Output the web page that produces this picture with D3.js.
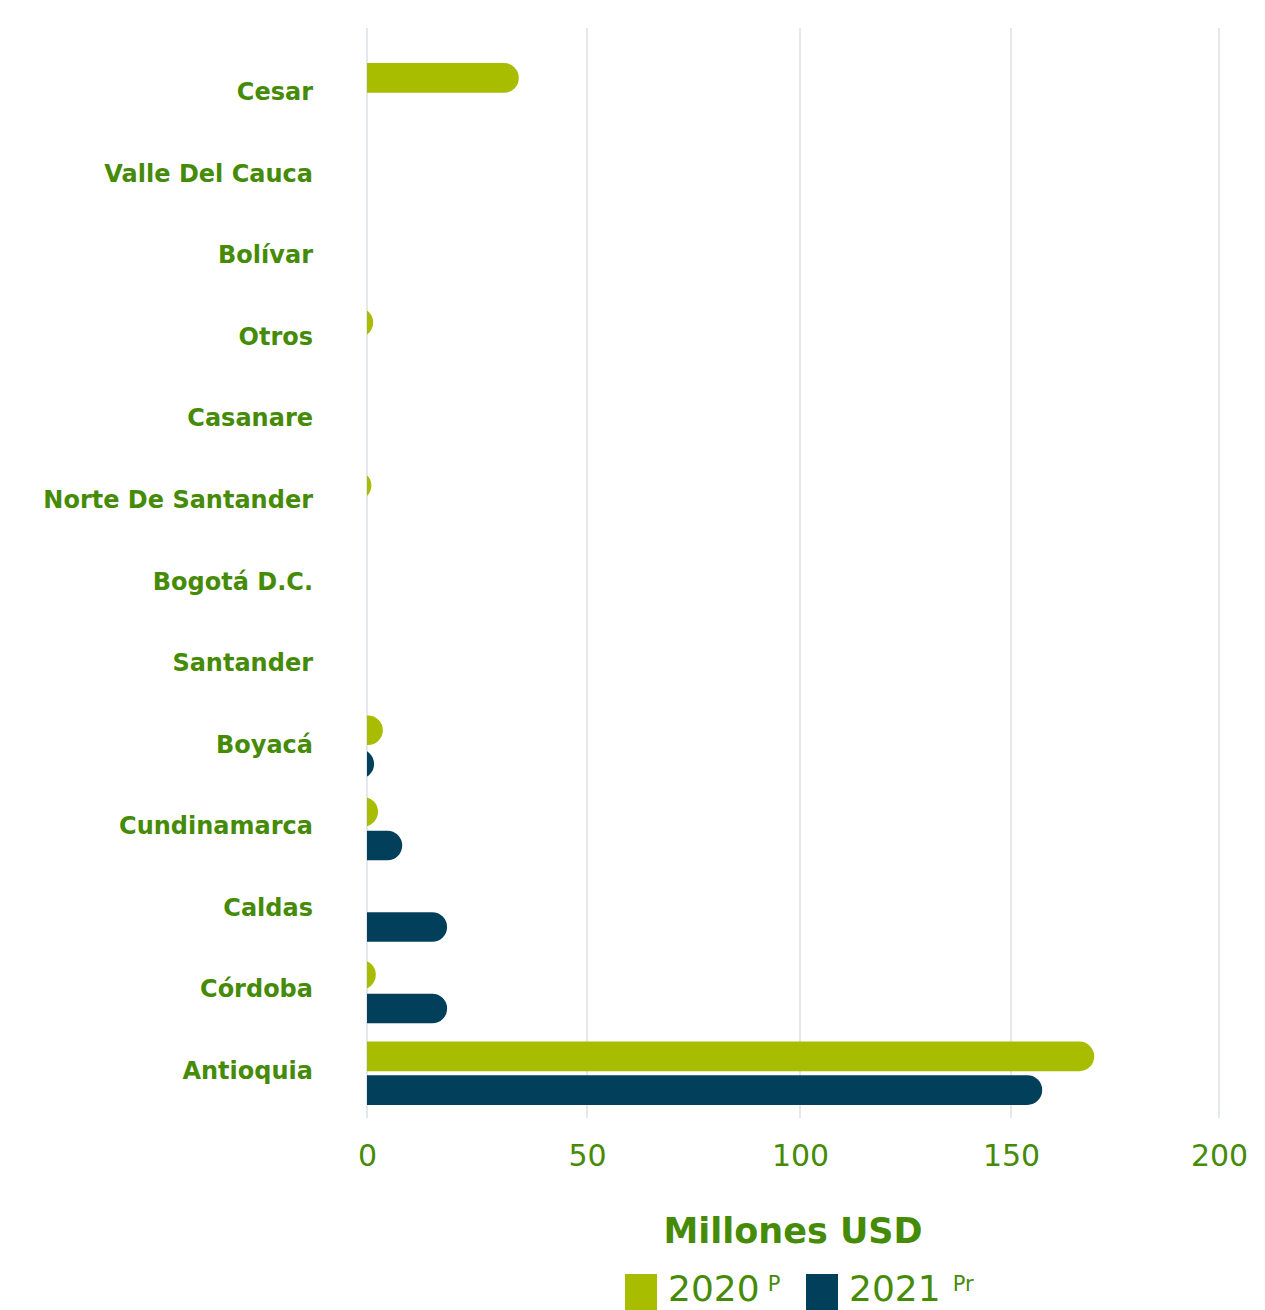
<!DOCTYPE html>
<html>
<head>
<meta charset="utf-8">
<script src="https://cdn.jsdelivr.net/npm/d3@7"></script>
<style>
  body { margin: 0; background: #fff; }
  svg { display: block; font-family: "DejaVu Sans", sans-serif; }
</style>
</head>
<body>
<svg id="chart" width="1265" height="1310"></svg>
<script>

var categories = [
    "Cesar",
    "Valle Del Cauca",
    "Bolívar",
    "Otros",
    "Casanare",
    "Norte De Santander",
    "Bogotá D.C.",
    "Santander",
    "Boyacá",
    "Cundinamarca",
    "Caldas",
    "Córdoba",
    "Antioquia"
];

var seriesNames = ["2020", "2021"];
var seriesSup = ["P", "Pr"];

// millones USD
var values2020 = [34.5, 0, 0, 1.4, 0, 1.0, 0, 0, 3.6, 2.5, 0, 2.0, 170.0];
var values2021 = [0, 0, 0, 0, 0, 0, 0, 0, 1.6, 8.0, 18.2, 18.2, 157.5];

var xTicks = [0, 50, 100, 150, 200];

var GREEN = "#a8bc00";
var NAVY = "#023f5b";
var TEXT = "#468b08";

var svg = d3.select("#chart");

// the gridlines in the picture are not quite evenly spaced
var x = d3.scaleLinear().domain(xTicks).range([367, 587, 800, 1011, 1219]);

var y = d3.scaleBand()
    .domain(categories)
    .range([54, 1114])
    .padding(0);

var ySub = d3.scaleBand()
    .domain(seriesNames)
    .range([0, y.bandwidth()])
    .paddingInner(0.12)
    .paddingOuter(0.27);

// gridlines
svg.append("g")
    .selectAll("line")
    .data(xTicks)
    .enter()
    .append("line")
    .attr("x1", function(d){ return x(d); })
    .attr("x2", function(d){ return x(d); })
    .attr("y1", 28)
    .attr("y2", 1118)
    .attr("stroke", "#d6dbe1")
    .attr("stroke-width", 1.3);

// clip so the bars start flat on the zero line
svg.append("clipPath")
    .attr("id", "plotClip")
    .append("rect")
    .attr("x", x(0))
    .attr("y", 0)
    .attr("width", 1265 - x(0))
    .attr("height", 1310);

var barData = [];
categories.forEach(function(c, i){
    barData.push({ cat: c, series: "2020", value: values2020[i], color: GREEN });
    barData.push({ cat: c, series: "2021", value: values2021[i], color: NAVY });
});

var r = ySub.bandwidth() / 2;

svg.append("g")
    .attr("clip-path", "url(#plotClip)")
    .selectAll("rect")
    .data(barData.filter(function(d){ return d.value > 0; }))
    .enter()
    .append("rect")
    .attr("x", x(0) - 2 * r)
    .attr("y", function(d){ return y(d.cat) + ySub(d.series); })
    .attr("width", function(d){ return x(d.value) - x(0) + 2 * r; })
    .attr("height", ySub.bandwidth())
    .attr("rx", r)
    .attr("ry", r)
    .attr("fill", function(d){ return d.color; });

// category labels
svg.append("g")
    .selectAll("text")
    .data(categories)
    .enter()
    .append("text")
    .attr("x", 313)
    .attr("y", function(d){ return y(d) + y.bandwidth() / 2 + 5.5; })
    .attr("text-anchor", "end")
    .attr("font-size", 24)
    .attr("font-weight", "bold")
    .attr("fill", TEXT)
    .text(function(d){ return d; });

// x axis labels
var xAxis = d3.axisBottom(x).tickValues(xTicks).tickSize(0).tickPadding(0);
var gx = svg.append("g")
    .attr("transform", "translate(0,1145)")
    .call(xAxis);
gx.select(".domain").remove();
gx.selectAll("text")
    .attr("dy", "0.71em")
    .attr("font-size", 30)
    .attr("font-family", "DejaVu Sans, sans-serif")
    .attr("fill", TEXT);

// axis title
svg.append("text")
    .attr("x", 793)
    .attr("y", 1243)
    .attr("text-anchor", "middle")
    .attr("font-size", 35)
    .attr("font-weight", "bold")
    .attr("fill", TEXT)
    .text("Millones USD");

// legend (kept just inside the bottom edge)
var legendX = [625, 806];
var legendColors = [GREEN, NAVY];
seriesNames.forEach(function(s, i){
    var g = svg.append("g").attr("transform", "translate(" + legendX[i] + ",0)");
    g.append("rect")
        .attr("x", 0)
        .attr("y", 1274)
        .attr("width", 32)
        .attr("height", 36)
        .attr("fill", legendColors[i]);
    var t = g.append("text")
        .attr("x", 43)
        .attr("y", 1301)
        .attr("font-size", 36)
        .attr("fill", TEXT)
        .text(s);
    var w = t.node().getComputedTextLength();
    g.append("text")
        .attr("x", 43 + w + (i == 0 ? 8 : 12))
        .attr("y", 1291)
        .attr("font-size", 21)
        .attr("fill", TEXT)
        .text(seriesSup[i]);
});

</script>
</body>
</html>
